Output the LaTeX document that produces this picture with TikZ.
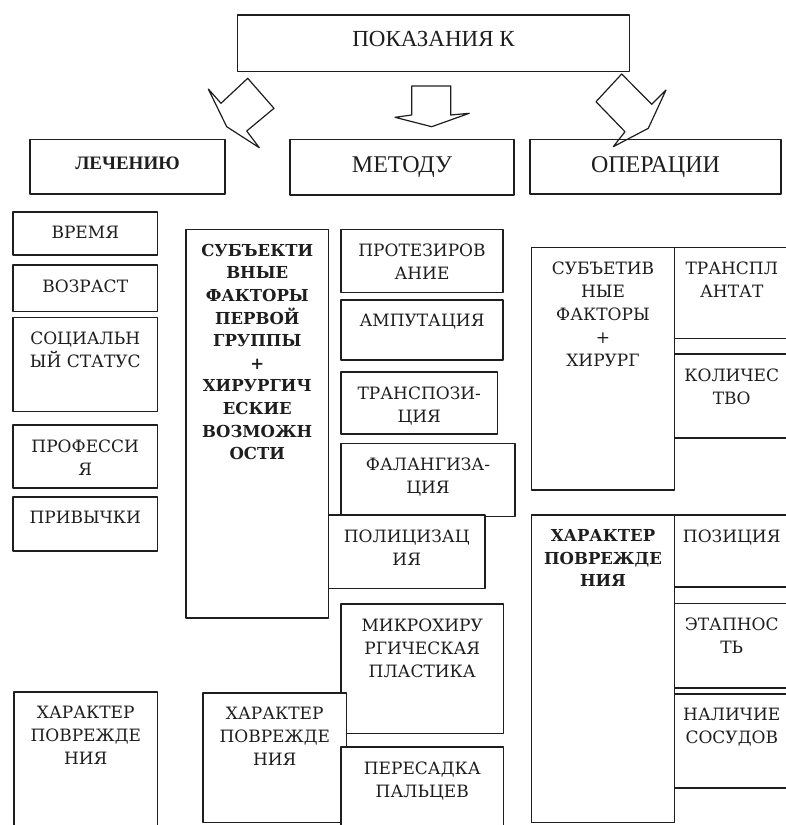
\documentclass[tikz,border=0pt]{standalone}
\usepackage{fontspec}
\setmainfont{DejaVu Serif}
\newfontfamily\headfont{Liberation Serif}
\definecolor{ink}{HTML}{1E1E1E}
\tikzset{
  every picture/.style={line join=round, line cap=round},
  box/.style={draw=ink, line width=1.4pt, fill=white, inner sep=0pt},
  txt/.style={anchor=north, inner sep=0pt, align=center, text=ink, font=\fontsize{17}{23}\selectfont},
  heavy/.style={font=\fontsize{16.5}{22.6}\selectfont\bfseries},
  head/.style={inner sep=0pt, text=ink, font=\headfont\fontsize{24}{26}\selectfont},
  blockarrow/.style={draw=ink, line width=1.2pt},
}
% box with its text at the top: [text style]{name}{x1}{y1}{x2}{y2}{text}
\newcommand\cell[7][]{%
  \node[box, minimum width={(#5-#3)*1pt}, minimum height={(#6-#4)*1pt}] (#2) at ({(#3+#5)/2},{(#4+#6)/2}) {};
  \node[txt, #1] (#2-t) at ([yshift=-15pt]#2.north) {#7};}
% header box with its text in the middle
\newcommand\headbox[7][]{%
  \node[box, minimum width={(#5-#3)*1pt}, minimum height={(#6-#4)*1pt}] (#2) at ({(#3+#5)/2},{(#4+#6)/2}) {};
  \node[head, #1] (#2-t) at (#2.center) {#7};}

\begin{document}
\begin{tikzpicture}[x=1pt, y=-1pt]
  \useasboundingbox (0,0) rectangle (786,825);
  \clip (0,0) rectangle (786,825);
  % ---------------- headers
  \headbox[yshift=4pt, font=\headfont\fontsize{23}{26}\selectfont]{pok}{237.5}{15}{629.5}{71.5}{ПОКАЗАНИЯ К}
  \headbox[yshift=3pt, font=\headfont\bfseries\fontsize{19}{20}\selectfont]{lech}{30}{139.5}{225}{194}{ЛЕЧЕНИЮ}
  \headbox{met}{290}{139.5}{514}{195}{МЕТОДУ}
  \headbox{oper}{530}{139.5}{781}{194}{ОПЕРАЦИИ}
  % block arrows
  \draw[blockarrow] (247.7,78.3) -- (274,108.3) -- (246.7,131) -- (259.3,147.7) -- (226.7,126.7) -- (208.3,89) -- (221,103.3) -- cycle;
  \draw[blockarrow] (411.7,86) -- (450.7,86) -- (450.7,115) -- (469.3,113.3) -- (431.7,126.7) -- (395,117.3) -- (411.7,115) -- cycle;
  \draw[blockarrow] (621.7,74) -- (651.7,104.3) -- (666,90) -- (648.3,128.3) -- (613.3,146.7) -- (625,131.7) -- (596,101.7) -- cycle;
  % ---------------- treatment
  \cell{vrem}{13}{212}{157.5}{255}{ВРЕМЯ}
  \cell{vozr}{13}{265}{157.5}{311.5}{ВОЗРАСТ}
  \cell{soc}{13}{317.5}{157.5}{411.5}{СОЦИАЛЬН\\ЫЙ СТАТУС}
  \cell{prof}{13}{425}{157.5}{488}{ПРОФЕССИ\\Я}
  \cell{priv}{13}{497}{157.5}{551}{ПРИВЫЧКИ}
  \cell{harl}{14}{692}{157.5}{840}{ХАРАКТЕР\\ПОВРЕЖДЕ\\НИЯ}
  % ---------------- method
  \cell[heavy]{subj}{186}{229.5}{328.5}{618}{СУБЪЕКТИ\\ВНЫЕ\\ФАКТОРЫ\\ПЕРВОЙ\\ГРУППЫ\\+\\ХИРУРГИЧ\\ЕСКИЕ\\ВОЗМОЖН\\ОСТИ}
  \cell{prot}{341}{229.5}{503}{292.5}{ПРОТЕЗИРОВ\\АНИЕ}
  \cell{amp}{341}{300}{503}{360}{АМПУТАЦИЯ}
  \cell{trans}{341}{372}{497.5}{434}{ТРАНСПОЗИ-\\ЦИЯ}
  \cell{fal}{341}{443.5}{515}{516.5}{ФАЛАНГИЗА-\\ЦИЯ}
  \cell{pol}{328.5}{515}{485}{588.5}{ПОЛИЦИЗАЦ\\ИЯ}
  \cell{mikro}{341}{604}{503.5}{733.5}{МИКРОХИРУ\\РГИЧЕСКАЯ\\ПЛАСТИКА}
  \cell{harm}{203}{693}{346.5}{822.5}{ХАРАКТЕР\\ПОВРЕЖДЕ\\НИЯ}
  \cell{peres}{341}{747}{503.5}{840}{ПЕРЕСАДКА\\ПАЛЬЦЕВ}
  % ---------------- operation
  \cell{subf}{531.5}{247.5}{674.5}{490}{СУБЪЕТИВ\\НЫЕ\\ФАКТОРЫ\\+\\ХИРУРГ}
  \cell{transpl}{674.5}{247.5}{789}{338.5}{ТРАНСПЛ\\АНТАТ}
  \cell{kol}{674.5}{354}{789}{438}{КОЛИЧЕС\\ТВО}
  \cell[heavy]{harr}{531.5}{515}{674.5}{822.5}{ХАРАКТЕР\\ПОВРЕЖДЕ\\НИЯ}
  \cell{poz}{674.5}{515}{789}{587}{ПОЗИЦИЯ}
  \cell{etap}{674.5}{603.5}{789}{688}{ЭТАПНОС\\ТЬ}
  \cell{nal}{674.5}{694}{789}{788}{НАЛИЧИЕ\\СОСУДОВ}
\end{tikzpicture}
\end{document}
